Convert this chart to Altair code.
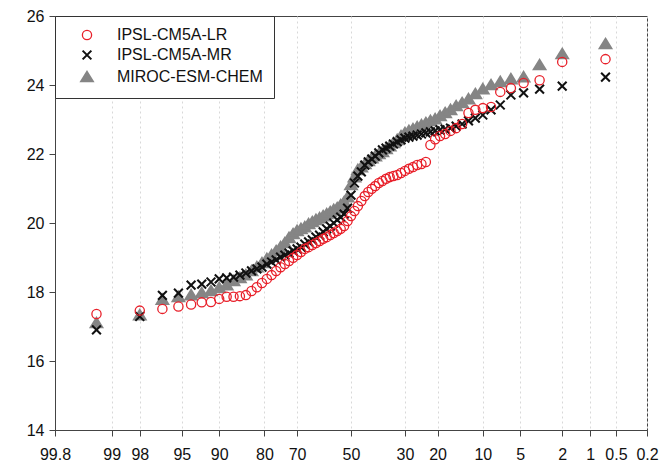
import altair as alt
import pandas as pd
from statistics import NormalDist

models = ["IPSL-CM5A-LR", "IPSL-CM5A-MR", "MIROC-ESM-CHEM"]

lr = [17.36, 17.46, 17.51, 17.58, 17.64, 17.70, 17.71, 17.80, 17.86, 17.86,
      17.88, 17.91, 18.03, 18.14, 18.26, 18.38, 18.49, 18.61, 18.72, 18.81,
      18.90, 18.99, 19.07, 19.16, 19.25, 19.30, 19.36, 19.42, 19.48, 19.54,
      19.59, 19.65, 19.71, 19.77, 19.83, 19.91, 20.06, 20.20, 20.35, 20.49,
      20.64, 20.78, 20.90, 20.99, 21.07, 21.16, 21.22, 21.28, 21.33, 21.36,
      21.39, 21.45, 21.51, 21.57, 21.62, 21.68, 21.71, 21.77, 22.26, 22.43,
      22.52, 22.58, 22.67, 22.75, 22.87, 23.19, 23.28, 23.33, 23.36, 23.80,
      23.91, 24.06, 24.14, 24.67, 24.75]

mr = [16.90, 17.29, 17.90, 17.97, 18.20, 18.23, 18.29, 18.38, 18.41, 18.43,
      18.49, 18.55, 18.61, 18.67, 18.72, 18.81, 18.87, 18.93, 19.01, 19.07,
      19.13, 19.19, 19.25, 19.30, 19.39, 19.45, 19.51, 19.59, 19.65, 19.74,
      19.83, 19.91, 20.00, 20.09, 20.17, 20.26, 20.43, 20.81, 21.16, 21.36,
      21.48, 21.68, 21.77, 21.85, 21.94, 22.03, 22.12, 22.17, 22.23, 22.29,
      22.35, 22.41, 22.46, 22.49, 22.52, 22.55, 22.58, 22.61, 22.64, 22.67,
      22.70, 22.72, 22.75, 22.81, 22.87, 22.96, 23.04, 23.13, 23.28, 23.42,
      23.71, 23.77, 23.88, 23.97, 24.23]

miroc = [17.10, 17.33, 17.78, 17.86, 17.91, 17.97, 18.03, 18.12, 18.20, 18.32,
         18.41, 18.49, 18.61, 18.72, 18.84, 18.96, 19.07, 19.19, 19.30, 19.42,
         19.57, 19.68, 19.77, 19.83, 19.88, 19.97, 20.03, 20.09, 20.14, 20.20,
         20.26, 20.32, 20.38, 20.43, 20.52, 20.61, 20.75, 21.10, 21.33, 21.54,
         21.62, 21.71, 21.80, 21.88, 21.94, 22.00, 22.06, 22.15, 22.23, 22.32,
         22.41, 22.52, 22.61, 22.67, 22.72, 22.78, 22.84, 22.90, 22.96, 23.01,
         23.10, 23.19, 23.28, 23.39, 23.48, 23.59, 23.74, 23.88, 24.00, 24.09,
         24.17, 24.23, 24.58, 24.90, 25.19]

tick_pct = [99.8, 99, 98, 95, 90, 80, 70, 50, 30, 20, 10, 5, 2, 1, 0.5, 0.2]
y_ticks = [14, 16, 18, 20, 22, 24, 26]

nd = NormalDist()
tick_z = [nd.inv_cdf(1 - p / 100) for p in tick_pct]
zmax = nd.inv_cdf(0.998)

rows = []
for name, vals, layer in [(models[2], miroc, 0), (models[1], mr, 1), (models[0], lr, 2)]:
    for v in vals:
        rows.append({"model": name, "temp": v, "layer": layer})
df = pd.DataFrame(rows)

XPATH = "M-0.95,-0.95L0.95,0.95M-0.95,0.95L0.95,-0.95"
TRIPATH = "M0,-0.95L1.1,0.85L-1.1,0.85Z"
FONT = "Liberation Sans"

leg = alt.Legend(title=None, orient="none", legendX=0, legendY=0,
                 fillColor="white", strokeColor="#333333", padding=11,
                 labelFontSize=16, labelFont=FONT, labelColor="#111111",
                 symbolSize=85, symbolOffset=13, labelOffset=22, rowPadding=3)

chart = alt.Chart(df).transform_window(
    rank="row_number()", groupby=["model"], sort=[alt.SortField("temp")]
).transform_joinaggregate(
    n="count()", groupby=["model"]
).transform_calculate(
    z="quantileNormal((datum.rank - 0.5) / datum.n)"
).mark_point(size=85, opacity=1).encode(
    x=alt.X("z:Q",
            scale=alt.Scale(domain=[-zmax, zmax], nice=False, zero=False),
            axis=alt.Axis(values=tick_z, title=None, grid=True,
                          gridDash=[2, 3], gridColor="#d8d8d8",
                          labelExpr="format((1 - cumulativeNormal(datum.value)) * 100, '.3~r')",
                          tickSize=6, labelPadding=10, labelFlush=False)),
    y=alt.Y("temp:Q",
            scale=alt.Scale(domain=[14, 26], nice=False, zero=False),
            axis=alt.Axis(values=y_ticks, title=None, grid=False, tickSize=6,
                          labelPadding=5)),
    shape=alt.Shape("model:N", scale=alt.Scale(domain=models, range=["circle", XPATH, TRIPATH]), legend=leg),
    stroke=alt.Stroke("model:N", scale=alt.Scale(domain=models, range=["#e8202a", "#111111", "#858585"]), legend=leg),
    fill=alt.Fill("model:N", scale=alt.Scale(domain=models, range=["transparent", "transparent", "#858585"]), legend=leg),
    strokeWidth=alt.StrokeWidth("model:N", scale=alt.Scale(domain=models, range=[1.3, 2.8, 0.5]), legend=leg),
    order=alt.Order("layer:Q"),
).properties(
    width=592, height=414,
    padding={"left": 55, "top": 16, "right": 21, "bottom": 38},
    autosize="none",
).configure_view(
    stroke="#444444", strokeWidth=1
).configure_axis(
    domainColor="#444444", tickColor="#444444", labelColor="#111111",
    labelFontSize=16, labelFont=FONT
)

chart.save("out.html", embed_options={"renderer": "svg", "actions": False})
